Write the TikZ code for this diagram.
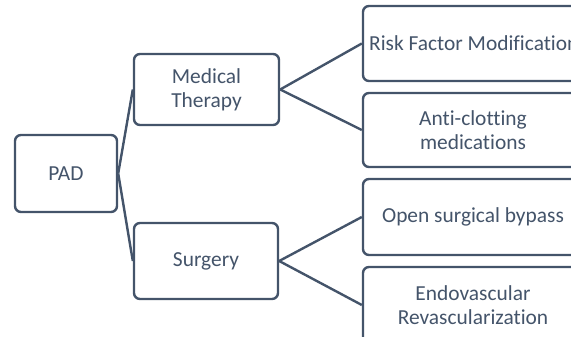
\documentclass[tikz,border=0pt]{standalone}
\usepackage{fontspec}
\setmainfont{Carlito}[Ligatures={NoCommon}]
\definecolor{slate}{HTML}{44546A}
\begin{document}
\begin{tikzpicture}[x=1pt,y=1pt,
  txt/.style={text=slate, font=\fontsize{21.4}{24}\selectfont},
  box/.style={txt, draw=slate, line width=2.4pt, rounded corners=6pt, fill=white,
    align=center, inner sep=0pt},
  conn/.style={draw=slate, line width=2.4pt}]
\useasboundingbox (0,0) rectangle (571,337);
\clip (0,0) rectangle (571,337);
\node[box, minimum width=102pt, minimum height=77pt] (pad) at (66,163.5) {PAD};
\node[box, minimum width=145pt, minimum height=71pt] (med) at (206.5,247.5) {Medical\\Therapy};
\node[box, minimum width=144pt, minimum height=76pt] (sur) at (206,76) {Surgery};
\node[box, minimum width=220pt, minimum height=75pt] (risk) at (473,293.5) {};
\node[txt, anchor=west, inner sep=0pt] (risktxt) at (369,293.5) {Risk Factor Modification};
\node[box, minimum width=220pt, minimum height=74pt] (anti) at (473,207) {Anti-clotting\\medications};
\node[box, minimum width=220pt, minimum height=76pt] (open) at (473,120) {Open surgical bypass};
\node[box, minimum width=220pt, minimum height=76pt] (endo) at (473,32) {Endovascular\\Revascularization};
\draw[conn] (pad.east) -- (med.west);
\draw[conn] (pad.east) -- (sur.west);
\draw[conn] (med.east) -- (risk.west);
\draw[conn] (med.east) -- (anti.west);
\draw[conn] (sur.east) -- (open.west);
\draw[conn] (sur.east) -- (endo.west);
\end{tikzpicture}
\end{document}
